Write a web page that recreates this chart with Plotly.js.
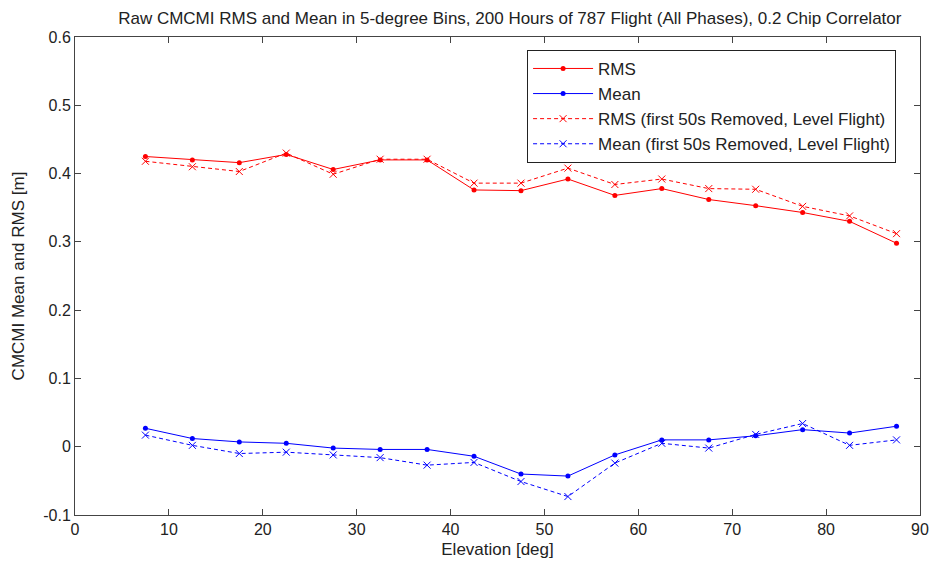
<!DOCTYPE html>
<html>
<head>
<meta charset="utf-8">
<script src="https://cdn.plot.ly/plotly-3.0.1.min.js"></script>
<style>html,body{margin:0;padding:0;background:#fff;}#chart{width:932px;height:565px;}</style>
</head>
<body>
<div id="chart"></div>
<script>
const elevation = [7.5, 12.5, 17.5, 22.5, 27.5, 32.5, 37.5, 42.5, 47.5, 52.5, 57.5, 62.5, 67.5, 72.5, 77.5, 82.5, 87.5];
const rms = [0.425, 0.420, 0.416, 0.428, 0.406, 0.420, 0.420, 0.376, 0.375, 0.392, 0.368, 0.378, 0.362, 0.353, 0.343, 0.330, 0.298];
const mean = [0.027, 0.012, 0.007, 0.005, -0.002, -0.004, -0.004, -0.014, -0.040, -0.043, -0.012, 0.010, 0.010, 0.016, 0.025, 0.020, 0.030];
const rmsLevel = [0.418, 0.410, 0.403, 0.430, 0.399, 0.421, 0.421, 0.386, 0.386, 0.408, 0.384, 0.392, 0.378, 0.377, 0.352, 0.338, 0.312];
const meanLevel = [0.017, 0.002, -0.010, -0.008, -0.012, -0.016, -0.027, -0.023, -0.051, -0.073, -0.024, 0.005, -0.002, 0.018, 0.034, 0.002, 0.010];
const seriesNames = ['RMS', 'Mean', 'RMS (first 50s Removed, Level Flight)', 'Mean (first 50s Removed, Level Flight)'];
const yTickVals = [-0.1, 0, 0.1, 0.2, 0.3, 0.4, 0.5, 0.6];
const yTickText = ['-0.1', '0', '0.1', '0.2', '0.3', '0.4', '0.5', '0.6'];
const xTickVals = [0, 10, 20, 30, 40, 50, 60, 70, 80, 90];
const xTickText = ['0', '10', '20', '30', '40', '50', '60', '70', '80', '90'];

const dotMarker = (c) => ({symbol: 'circle', size: 5, color: c});
const xMarker = (c) => ({symbol: 'x-thin-open', size: 7, color: c, line: {color: c, width: 1}});

const traces = [
  {x: elevation, y: rms, name: seriesNames[0], mode: 'lines+markers', line: {color: '#ff0000', width: 1}, marker: dotMarker('#ff0000')},
  {x: elevation, y: mean, name: seriesNames[1], mode: 'lines+markers', line: {color: '#0000ff', width: 1}, marker: dotMarker('#0000ff')},
  {x: elevation, y: rmsLevel, name: seriesNames[2], mode: 'lines+markers', line: {color: '#ff0000', width: 1, dash: '4px,3px'}, marker: xMarker('#ff0000')},
  {x: elevation, y: meanLevel, name: seriesNames[3], mode: 'lines+markers', line: {color: '#0000ff', width: 1, dash: '4px,3px'}, marker: xMarker('#0000ff')}
];

const FONT = 'Liberation Sans, Arial, sans-serif';
const axisCommon = {
  showgrid: false, zeroline: false, showline: true, linecolor: '#444', linewidth: 1,
  mirror: 'ticks', ticks: 'inside', ticklen: 6, tickcolor: '#444',
  tickfont: {family: FONT, size: 16, color: '#222'}
};

const layout = {
  width: 932, height: 565,
  margin: {l: 75, r: 12, t: 37, b: 50},
  paper_bgcolor: '#fff', plot_bgcolor: '#fff',
  font: {family: FONT, color: '#222'},
  title: {text: 'Raw CMCMI RMS and Mean in 5-degree Bins, 200 Hours of 787 Flight (All Phases), 0.2 Chip Correlator',
          font: {size: 17, color: '#222'}, x: 0.547, xref: 'container', xanchor: 'center', y: 0.968, yanchor: 'middle'},
  xaxis: Object.assign({}, axisCommon, {range: [0, 90], tickvals: xTickVals, ticktext: xTickText,
          title: {text: 'Elevation [deg]', font: {size: 17}, standoff: 5}}),
  yaxis: Object.assign({}, axisCommon, {range: [-0.1, 0.6], tickvals: yTickVals, ticktext: yTickText,
          title: {text: 'CMCMI Mean and RMS [m]', font: {size: 17}, standoff: 14}}),
  legend: {x: 0.535, y: 0.973, xanchor: 'left', yanchor: 'top', bgcolor: '#fff', bordercolor: '#222', borderwidth: 1,
           font: {size: 17, color: '#222'}, tracegroupgap: 0, itemwidth: 60},
  showlegend: true
};

Plotly.newPlot('chart', traces, layout, {displayModeBar: false, staticPlot: true});
</script>
</body>
</html>
